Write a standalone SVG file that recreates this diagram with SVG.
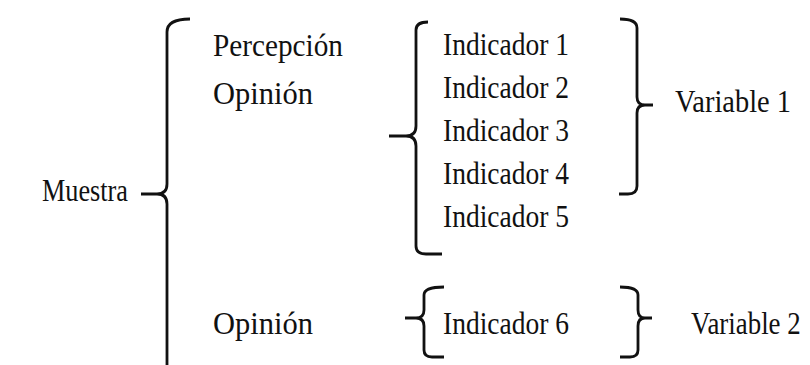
<svg xmlns="http://www.w3.org/2000/svg" width="810" height="365" viewBox="0 0 810 365">
  <style>
    .t { font-family: "Liberation Serif", "Times New Roman", serif; font-size: 32px; fill: #111; }
    .br { fill: none; stroke: #111; stroke-width: 2.8; stroke-linecap: butt; stroke-linejoin: round; }
  </style>
  <rect width="810" height="365" fill="#fff"/>

  <!-- braces and brackets joining the groups -->
  <g id="connectors">
    <path class="br" d="M190,19 Q167,19 167,32 V184 Q167,194 157,194 H141 M157,194 Q167,194 167,204 V366"/>
    <path class="br" d="M428,22 Q416,22 416,30 V126 Q416,136 406,136 H389 M406,136 Q416,136 416,146 V246 Q416,254 426,254 H442"/>
    <path class="br" d="M620,19 Q637,19 637,28 V97 Q637,105 645,105 H653 M645,105 Q637,105 637,113 V186 Q637,194 628,194 H619"/>
    <path class="br" d="M444,287 Q424,287 424,295 V310 Q424,318 416,318 H405 M416,318 Q424,318 424,326 V350 Q424,357 432,357 H444"/>
    <path class="br" d="M620,287 Q638,287 638,295 V310 Q638,318 645,318 H652 M645,318 Q638,318 638,326 V350 Q638,357 630,357 H620"/>
  </g>

  <!-- narrow serif lettering: widths set per label -->
  <g id="muestra"><text class="t" x="42" y="201" textLength="86" lengthAdjust="spacingAndGlyphs">Muestra</text></g>
  <g id="percepcion"><text class="t" x="213" y="56" textLength="130" lengthAdjust="spacingAndGlyphs">Percepción</text></g>
  <g id="opinion1"><text class="t" x="213" y="104" textLength="100" lengthAdjust="spacingAndGlyphs">Opinión</text></g>
  <g id="opinion2"><text class="t" x="213" y="334" textLength="100" lengthAdjust="spacingAndGlyphs">Opinión</text></g>

  <g id="indicador1"><text class="t" x="443" y="55" textLength="126" lengthAdjust="spacingAndGlyphs">Indicador 1</text></g>
  <g id="indicador2"><text class="t" x="443" y="98" textLength="126" lengthAdjust="spacingAndGlyphs">Indicador 2</text></g>
  <g id="indicador3"><text class="t" x="443" y="141" textLength="126" lengthAdjust="spacingAndGlyphs">Indicador 3</text></g>
  <g id="indicador4"><text class="t" x="443" y="184" textLength="126" lengthAdjust="spacingAndGlyphs">Indicador 4</text></g>
  <g id="indicador5"><text class="t" x="443" y="227" textLength="126" lengthAdjust="spacingAndGlyphs">Indicador 5</text></g>
  <g id="indicador6"><text class="t" x="443" y="334" textLength="126" lengthAdjust="spacingAndGlyphs">Indicador 6</text></g>

  <g id="variable1"><text class="t" x="675" y="112" textLength="116" lengthAdjust="spacingAndGlyphs">Variable 1</text></g>
  <g id="variable2"><text class="t" transform="translate(691,334) scale(0.84,1)">Variable 2</text></g>
</svg>
